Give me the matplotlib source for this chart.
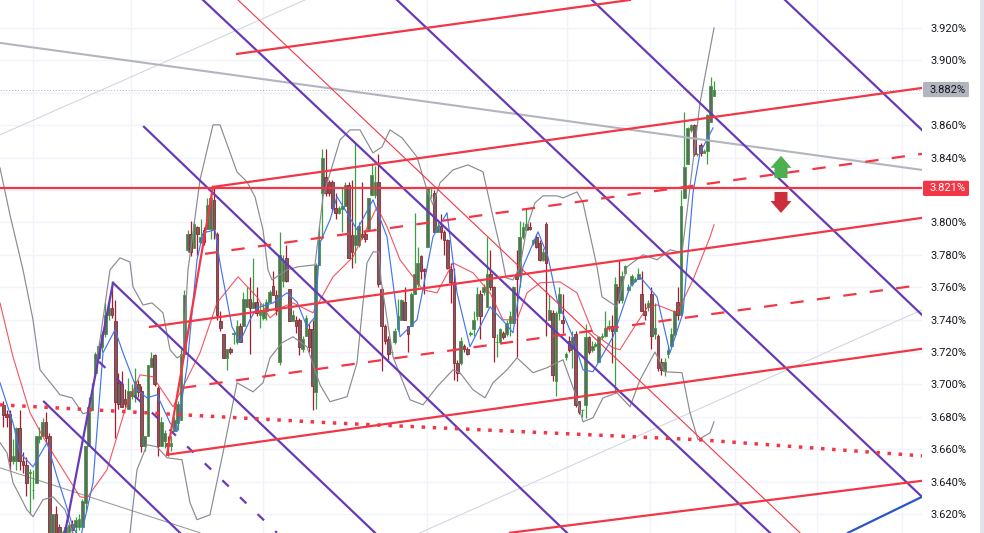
import matplotlib
matplotlib.use("Agg")
import matplotlib.pyplot as plt
from matplotlib.patches import FancyArrow, FancyBboxPatch, Rectangle
import numpy as np

# candles, one value per bar, bars 1..217
opens = [
    3.687, 3.682, 3.682, 3.653, 3.653, 3.673, 3.653, 3.650, 3.645, 3.635,
    3.639, 3.666, 3.668, 3.677, 3.668, 3.600, 3.620, 3.612, 3.604, 3.600,
    3.609, 3.614, 3.612, 3.612, 3.612, 3.627, 3.662, 3.684, 3.707, 3.716,
    3.723, 3.731, 3.743, 3.747, 3.739, 3.701, 3.700, 3.691, 3.685, 3.693,
    3.692, 3.700, 3.696, 3.662, 3.668, 3.711, 3.718, 3.698, 3.662, 3.665,
    3.664, 3.662, 3.671, 3.676, 3.678, 3.719, 3.783, 3.793, 3.784, 3.797,
    3.788, 3.795, 3.796, 3.796, 3.814, 3.793, 3.739, 3.731, 3.716, 3.722,
    3.731, 3.726, 3.736, 3.736, 3.748, 3.753, 3.747, 3.751, 3.743, 3.741,
    3.745, 3.751, 3.761, 3.755, 3.714, 3.764, 3.778, 3.759, 3.739, 3.740,
    3.740, 3.722, 3.730, 3.734, 3.734, 3.695, 3.774, 3.818, 3.828, 3.825,
    3.825, 3.809, 3.806, 3.808, 3.810, 3.823, 3.792, 3.786, 3.786, 3.793,
    3.793, 3.796, 3.817, 3.817, 3.825, 3.759, 3.736, 3.728, 3.720, 3.726,
    3.734, 3.740, 3.751, 3.736, 3.736, 3.756, 3.762, 3.779, 3.771, 3.785,
    3.817, 3.818, 3.794, 3.798, 3.794, 3.789, 3.771, 3.763, 3.713, 3.713,
    3.724, 3.722, 3.731, 3.734, 3.742, 3.756, 3.757, 3.748, 3.768, 3.760,
    3.726, 3.726, 3.732, 3.731, 3.738, 3.738, 3.768, 3.767, 3.791, 3.795,
    3.797, 3.787, 3.791, 3.787, 3.777, 3.799, 3.740, 3.744, 3.702, 3.744,
    3.740, 3.717, 3.727, 3.723, 3.731, 3.690, 3.684, 3.687, 3.729, 3.721,
    3.724, 3.714, 3.729, 3.730, 3.735, 3.736, 3.733, 3.760, 3.752, 3.769,
    3.758, 3.762, 3.764, 3.765, 3.756, 3.745, 3.748, 3.756, 3.731, 3.730,
    3.714, 3.708, 3.719, 3.724, 3.731, 3.751, 3.743, 3.815, 3.836, 3.857,
    3.860, 3.842, 3.848, 3.843, 3.844, 3.862, 3.878,
]
closes = [
    3.681, 3.680, 3.653, 3.656, 3.673, 3.653, 3.650, 3.639, 3.646, 3.635,
    3.668, 3.668, 3.677, 3.667, 3.600, 3.620, 3.600, 3.603, 3.609, 3.612,
    3.613, 3.610, 3.616, 3.617, 3.628, 3.662, 3.686, 3.696, 3.719, 3.724,
    3.731, 3.743, 3.747, 3.743, 3.689, 3.688, 3.686, 3.688, 3.696, 3.696,
    3.702, 3.695, 3.662, 3.668, 3.712, 3.716, 3.700, 3.662, 3.677, 3.670,
    3.662, 3.664, 3.678, 3.688, 3.719, 3.755, 3.793, 3.782, 3.799, 3.793,
    3.791, 3.788, 3.811, 3.815, 3.796, 3.743, 3.735, 3.716, 3.722, 3.720,
    3.732, 3.736, 3.726, 3.753, 3.753, 3.747, 3.751, 3.744, 3.745, 3.745,
    3.751, 3.757, 3.755, 3.746, 3.780, 3.776, 3.764, 3.739, 3.743, 3.736,
    3.723, 3.728, 3.741, 3.723, 3.699, 3.774, 3.789, 3.840, 3.818, 3.818,
    3.809, 3.806, 3.809, 3.810, 3.823, 3.778, 3.782, 3.792, 3.798, 3.791,
    3.790, 3.815, 3.829, 3.825, 3.762, 3.736, 3.727, 3.719, 3.720, 3.733,
    3.742, 3.752, 3.740, 3.731, 3.756, 3.768, 3.775, 3.770, 3.770, 3.821,
    3.817, 3.794, 3.798, 3.794, 3.789, 3.772, 3.763, 3.713, 3.707, 3.727,
    3.722, 3.719, 3.732, 3.740, 3.756, 3.742, 3.760, 3.768, 3.760, 3.729,
    3.726, 3.734, 3.729, 3.738, 3.742, 3.760, 3.765, 3.791, 3.797, 3.799,
    3.796, 3.789, 3.785, 3.777, 3.782, 3.775, 3.746, 3.706, 3.744, 3.756,
    3.738, 3.719, 3.721, 3.729, 3.687, 3.683, 3.684, 3.729, 3.720, 3.724,
    3.725, 3.729, 3.730, 3.735, 3.736, 3.733, 3.762, 3.752, 3.767, 3.773,
    3.760, 3.767, 3.765, 3.768, 3.745, 3.743, 3.750, 3.730, 3.735, 3.710,
    3.709, 3.714, 3.721, 3.731, 3.745, 3.743, 3.810, 3.834, 3.858, 3.860,
    3.842, 3.842, 3.843, 3.844, 3.866, 3.884, 3.882,
]
highs = [
    3.690, 3.684, 3.684, 3.666, 3.674, 3.684, 3.658, 3.655, 3.648, 3.647,
    3.668, 3.674, 3.679, 3.683, 3.670, 3.620, 3.625, 3.614, 3.610, 3.613,
    3.615, 3.616, 3.618, 3.620, 3.629, 3.662, 3.692, 3.701, 3.720, 3.727,
    3.733, 3.750, 3.752, 3.761, 3.752, 3.707, 3.708, 3.697, 3.704, 3.700,
    3.710, 3.703, 3.699, 3.668, 3.712, 3.720, 3.719, 3.699, 3.680, 3.672,
    3.668, 3.668, 3.680, 3.690, 3.722, 3.758, 3.795, 3.801, 3.800, 3.798,
    3.802, 3.797, 3.815, 3.818, 3.821, 3.794, 3.745, 3.731, 3.722, 3.723,
    3.733, 3.740, 3.738, 3.757, 3.760, 3.766, 3.778, 3.760, 3.750, 3.750,
    3.753, 3.758, 3.770, 3.758, 3.794, 3.780, 3.786, 3.759, 3.746, 3.742,
    3.741, 3.730, 3.743, 3.737, 3.740, 3.775, 3.797, 3.845, 3.845, 3.826,
    3.826, 3.818, 3.810, 3.822, 3.825, 3.825, 3.826, 3.849, 3.800, 3.825,
    3.795, 3.815, 3.836, 3.835, 3.842, 3.760, 3.737, 3.730, 3.720, 3.735,
    3.753, 3.753, 3.760, 3.736, 3.757, 3.806, 3.785, 3.780, 3.772, 3.822,
    3.822, 3.820, 3.800, 3.805, 3.795, 3.790, 3.775, 3.772, 3.715, 3.729,
    3.725, 3.723, 3.733, 3.745, 3.760, 3.758, 3.762, 3.791, 3.783, 3.761,
    3.731, 3.735, 3.733, 3.740, 3.745, 3.761, 3.783, 3.801, 3.800, 3.808,
    3.800, 3.790, 3.793, 3.789, 3.784, 3.800, 3.755, 3.746, 3.745, 3.760,
    3.756, 3.720, 3.730, 3.733, 3.733, 3.690, 3.685, 3.737, 3.730, 3.727,
    3.726, 3.730, 3.732, 3.745, 3.740, 3.743, 3.766, 3.777, 3.770, 3.774,
    3.762, 3.768, 3.766, 3.772, 3.770, 3.750, 3.752, 3.760, 3.750, 3.731,
    3.716, 3.716, 3.724, 3.735, 3.746, 3.760, 3.820, 3.868, 3.859, 3.861,
    3.861, 3.843, 3.849, 3.845, 3.867, 3.890, 3.887,
]
lows = [
    3.674, 3.674, 3.647, 3.651, 3.647, 3.647, 3.645, 3.631, 3.620, 3.629,
    3.639, 3.664, 3.668, 3.664, 3.595, 3.595, 3.598, 3.600, 3.600, 3.598,
    3.600, 3.605, 3.605, 3.610, 3.612, 3.621, 3.662, 3.684, 3.705, 3.716,
    3.720, 3.729, 3.740, 3.741, 3.667, 3.685, 3.686, 3.686, 3.685, 3.691,
    3.689, 3.692, 3.658, 3.659, 3.668, 3.711, 3.699, 3.656, 3.662, 3.661,
    3.656, 3.659, 3.671, 3.672, 3.678, 3.719, 3.782, 3.779, 3.784, 3.780,
    3.787, 3.786, 3.796, 3.790, 3.790, 3.740, 3.733, 3.716, 3.709, 3.719,
    3.725, 3.725, 3.726, 3.736, 3.748, 3.719, 3.747, 3.742, 3.735, 3.740,
    3.740, 3.751, 3.755, 3.743, 3.712, 3.760, 3.763, 3.739, 3.739, 3.732,
    3.718, 3.720, 3.730, 3.720, 3.684, 3.685, 3.774, 3.790, 3.816, 3.816,
    3.807, 3.802, 3.805, 3.794, 3.810, 3.778, 3.772, 3.775, 3.785, 3.790,
    3.788, 3.795, 3.817, 3.815, 3.760, 3.708, 3.725, 3.715, 3.719, 3.725,
    3.733, 3.740, 3.740, 3.720, 3.736, 3.756, 3.760, 3.765, 3.756, 3.785,
    3.815, 3.794, 3.794, 3.790, 3.780, 3.771, 3.750, 3.703, 3.702, 3.712,
    3.720, 3.718, 3.730, 3.730, 3.740, 3.728, 3.755, 3.748, 3.758, 3.714,
    3.717, 3.726, 3.728, 3.730, 3.730, 3.738, 3.717, 3.760, 3.790, 3.795,
    3.795, 3.786, 3.784, 3.776, 3.776, 3.730, 3.740, 3.702, 3.693, 3.740,
    3.732, 3.715, 3.720, 3.710, 3.686, 3.682, 3.680, 3.679, 3.719, 3.720,
    3.723, 3.714, 3.728, 3.729, 3.733, 3.713, 3.695, 3.750, 3.750, 3.768,
    3.757, 3.761, 3.763, 3.765, 3.745, 3.740, 3.745, 3.722, 3.728, 3.708,
    3.706, 3.705, 3.716, 3.723, 3.730, 3.740, 3.743, 3.815, 3.836, 3.856,
    3.841, 3.841, 3.841, 3.843, 3.836, 3.862, 3.878,
]

# time units per bar on the x axis
bar_step = 3.29

# bollinger bands and moving averages, (time, yield)
upper_t = [0, 10, 23, 33, 40, 52, 60, 72, 83, 90, 100, 110, 120, 130, 133, 143, 152, 163, 170, 177, 183, 188, 200, 213,
           220, 237, 247, 255, 263, 268, 272, 287, 298, 315, 323, 340, 350, 360, 373, 382, 390, 402, 417, 427, 433, 440,
           453, 468, 483, 493, 500, 506, 513, 520, 527, 535, 543, 557, 563, 577, 583, 597, 602, 617, 627, 643, 657, 670,
           682, 690, 700, 708, 714]
upper_v = [3.8336, 3.8046, 3.7707, 3.7399, 3.709, 3.6998, 3.6936, 3.6917, 3.6819, 3.6831, 3.7275, 3.7707, 3.7781, 3.7756,
           3.7602, 3.749, 3.7503, 3.7442, 3.7214, 3.7164, 3.7183, 3.7707, 3.8262, 3.8602, 3.8602, 3.8312, 3.825, 3.8158,
           3.7954, 3.7707, 3.7645, 3.7707, 3.7726, 3.7738, 3.8158, 3.8509, 3.8571, 3.8571, 3.8429, 3.8466, 3.8571, 3.8522,
           3.8404, 3.82, 3.8108, 3.8244, 3.8324, 3.8355, 3.8312, 3.8034, 3.7849, 3.7658, 3.7645, 3.7726, 3.7973, 3.8121,
           3.8164, 3.8164, 3.8151, 3.8188, 3.8121, 3.7726, 3.754, 3.7479, 3.7726, 3.78, 3.7769, 3.7831, 3.7812, 3.8219,
           3.8737, 3.9003, 3.92]
lower_t = [0, 7, 13, 27, 33, 43, 53, 65, 75, 118, 130, 137, 147, 157, 167, 182, 190, 197, 210, 223, 237, 253, 263, 270,
           282, 293, 307, 320, 330, 347, 357, 367, 373, 379, 381, 393, 410, 423, 437, 453, 460, 473, 485, 493, 507, 517,
           533, 547, 563, 575, 583, 593, 603, 617, 630, 640, 655, 665, 682, 690, 698, 710, 714]
lower_v = [3.664, 3.6578, 3.6393, 3.6226, 3.6183, 3.6288, 3.6306, 3.6226, 3.604, 3.6011, 3.6084, 3.6473, 3.6627, 3.6615,
           3.6547, 3.6535, 3.627, 3.6165, 3.6195, 3.6578, 3.701, 3.6954, 3.701, 3.7164, 3.7257, 3.7294, 3.7232, 3.6998,
           3.6893, 3.6924, 3.7133, 3.775, 3.7818, 3.7818, 3.7645, 3.717, 3.6905, 3.6874, 3.6985, 3.709, 3.7072, 3.6967,
           3.6917, 3.701, 3.709, 3.7164, 3.7072, 3.7103, 3.7152, 3.6948, 3.6769, 3.6794, 3.6917, 3.6948, 3.6862, 3.7028,
           3.72, 3.7078, 3.7072, 3.6825, 3.6658, 3.6701, 3.6769]
slow_t = [0, 13, 30, 43, 55, 80, 87, 107, 125, 140, 153, 173, 183, 200, 217, 238, 257, 270, 283, 293, 313, 333, 353, 377,
          387, 400, 423, 437, 453, 473, 490, 503, 517, 527, 540, 560, 577, 593, 613, 620, 637, 647, 657, 677, 693, 710, 714]
slow_v = [3.7503, 3.717, 3.6825, 3.6677, 3.6553, 3.6306, 3.63, 3.6473, 3.6843, 3.7059, 3.7047, 3.6862, 3.6985, 3.7195,
          3.7503, 3.7664, 3.754, 3.7411, 3.7479, 3.7503, 3.7442, 3.7664, 3.7787, 3.8096, 3.7973, 3.7769, 3.7584, 3.7565,
          3.775, 3.7689, 3.7565, 3.7399, 3.7399, 3.7565, 3.7627, 3.7633, 3.7565, 3.7318, 3.7226, 3.7214, 3.738, 3.7473,
          3.7491, 3.7442, 3.7645, 3.791, 3.7985]
fast_t = [0, 13, 20, 33, 47, 57, 73, 80, 87, 93, 103, 115, 123, 137, 147, 157, 170, 177, 187, 197, 203, 215, 220, 232,
          240, 250, 257, 273, 287, 297, 307, 315, 320, 330, 337, 347, 357, 373, 387, 400, 417, 433, 447, 457, 470, 490,
          505, 513, 523, 538, 548, 557, 572, 583, 593, 613, 630, 640, 657, 670, 683, 693, 700, 713]
fast_v = [3.701, 3.6763, 3.6578, 3.6491, 3.664, 3.643, 3.6121, 3.604, 3.6226, 3.6393, 3.7195, 3.7337, 3.7195, 3.6967,
          3.6917, 3.6936, 3.6763, 3.6708, 3.7109, 3.7769, 3.7935, 3.7954, 3.775, 3.7355, 3.7263, 3.7399, 3.7473, 3.7503,
          3.7565, 3.7509, 3.7355, 3.7417, 3.7874, 3.8016, 3.8158, 3.8059, 3.7954, 3.8139, 3.7911, 3.7294, 3.7399, 3.7911,
          3.8059, 3.7565, 3.7232, 3.7479, 3.738, 3.7318, 3.7726, 3.7942, 3.7787, 3.7522, 3.7306, 3.709, 3.7078, 3.7294,
          3.7602, 3.7664, 3.754, 3.7195, 3.7442, 3.8182, 3.8429, 3.8583]

# drawn trend lines, start and end
red_t0 = [237, 213, 150, 167, 510, 167]
red_v0 = [3.904, 3.8219, 3.7355, 3.6566, 3.6084, 3.6566]
red_t1 = [630, 922, 922, 922, 922, 213]
red_v1 = [3.9373, 3.883, 3.8028, 3.722, 3.6405, 3.8219]
dash_t0 = [205, 183]
dash_v0 = [3.7806, 3.6979]
dash_t1 = [922, 922]
dash_v1 = [3.8423, 3.7615]
purple_t0 = [203, 397, 592, 785, 144, 113, 44, 65]
purple_v0 = [3.9373, 3.9373, 3.9373, 3.9373, 3.859, 3.7627, 3.6893, 3.6084]
purple_t1 = [770, 922, 922, 922, 567, 375, 180, 113]
purple_v1 = [3.6084, 3.6306, 3.7429, 3.857, 3.6084, 3.6084, 3.6084, 3.7627]
purple_dash_t = [99, 277]
purple_dash_v = [3.714, 3.6084]
thin_red_t = [238, 800]
thin_red_v = [3.9373, 3.6084]
gray_t = [0, 922]
gray_v = [3.9108, 3.8324]
pale_t0 = [0, 420]
pale_v0 = [3.854, 3.6084]
pale_t1 = [305, 922]
pale_v1 = [3.9373, 3.746]
thin_gray_t = [0, 200]
thin_gray_v = [3.6485, 3.6084]
blue_t = [848, 922]
blue_v = [3.6084, 3.6306]
dotted_t = [0, 330, 480, 700, 922]
dotted_v = [3.6874, 3.6763, 3.672, 3.6658, 3.6559]

last_price = 3.882
level_price = 3.821
ticks = [3.62, 3.64, 3.66, 3.68, 3.70, 3.72, 3.74, 3.76, 3.78, 3.80, 3.82, 3.84, 3.86, 3.88, 3.90, 3.92]
hidden_ticks = [3.82, 3.88]
vgrid_t = [33, 131, 263, 427, 567, 650, 735, 817, 902]

RED = "#f23645"
PURPLE = "#673ab7"

plt.rcParams["font.family"] = ["Roboto", "DejaVu Sans"]
fig = plt.figure(figsize=(9.84, 5.33), dpi=100)
ax = fig.add_axes([0, 0, 922 / 984, 1])
ax.set_xlim(0, 922)
ax.set_ylim(3.60827, 3.93728)
for s in ax.spines.values():
    s.set_visible(False)

ax.set_xticks(vgrid_t)
ax.set_yticks(ticks)
ax.set_xticklabels([])
ax.grid(True, color="#f0f3fa", lw=1)
ax.set_axisbelow(True)
ax.yaxis.tick_right()
ax.tick_params(length=0, labelsize=8, labelcolor="#131722", pad=6)
ax.set_yticklabels(["" if t in hidden_ticks else "%.3f%%" % t for t in ticks])

# pale and gray lines sit under the candles
for a, b, c, d in zip(pale_t0, pale_t1, pale_v0, pale_v1):
    ax.plot([a, b], [c, d], color="#d1d4dc", lw=0.75)
ax.plot(thin_gray_t, thin_gray_v, color="#999999", lw=0.75)
ax.axhline(last_price, color="#b2b5be", lw=0.7, ls=(0, (1, 2)))

x = (np.arange(len(opens)) + 1) * bar_step
o = np.array(opens)
c = np.array(closes)
up = c >= o
edge = np.where(up, "#3c9f40", "#a51e2d")
ax.vlines(x, lows, highs, colors=edge, lw=0.9, zorder=3)
ax.bar(x, np.abs(c - o), bottom=np.minimum(o, c), width=2.7, color="#666666", edgecolor=edge, lw=0.6, zorder=3)

ax.plot(upper_t, upper_v, color="#8a8a92", lw=0.85, zorder=4)
ax.plot(lower_t, lower_v, color="#8a8a92", lw=0.85, zorder=4)
ax.plot(slow_t, slow_v, color="#f23645", lw=0.8, alpha=0.85, zorder=4)
ax.plot(fast_t, fast_v, color="#3f76f0", lw=0.85, zorder=4)

ax.plot(gray_t, gray_v, color="#b2b5be", lw=1.5, zorder=5)
ax.plot(thin_red_t, thin_red_v, color=RED, lw=0.8, zorder=5)
for a, b, c1, d in zip(purple_t0, purple_t1, purple_v0, purple_v1):
    ax.plot([a, b], [c1, d], color=PURPLE, lw=1.6, zorder=5)
ax.plot(purple_dash_t, purple_dash_v, color=PURPLE, lw=1.6, ls=(0, (4, 7)), zorder=5)
for a, b, c1, d in zip(red_t0, red_t1, red_v0, red_v1):
    ax.plot([a, b], [c1, d], color=RED, lw=1.6, zorder=6)
for a, b, c1, d in zip(dash_t0, dash_t1, dash_v0, dash_v1):
    ax.plot([a, b], [c1, d], color=RED, lw=1.6, ls=(0, (6, 6)), zorder=6)
ax.plot(dotted_t, dotted_v, color=RED, lw=2.5, ls=(0, (1, 2.2)), zorder=6)
ax.axhline(level_price, color=RED, lw=1.6, zorder=6)
ax.plot(blue_t, blue_v, color="#2a55c8", lw=1.6, zorder=6)

ax.add_patch(FancyArrow(781, 3.8274, 0, 0.0137, width=13, head_width=21, head_length=0.0074,
                        length_includes_head=True, color="#4caf50", lw=0, zorder=7))
ax.add_patch(FancyArrow(781, 3.8188, 0, -0.013, width=13, head_width=21, head_length=0.0074,
                        length_includes_head=True, color="#cc2f3c", lw=0, zorder=7))

# price badges on the scale
for val, bg, fg in [(last_price, "#b2b5be", "#131722"), (level_price, RED, "white")]:
    ax.add_patch(FancyBboxPatch((923, val - 0.0047), 46, 0.0094, boxstyle="round,pad=0,rounding_size=1.5",
                                mutation_aspect=0.0006, fc=bg, ec="none", clip_on=False, zorder=8))
    ax.text(929, val, "%.3f%%" % val, color=fg, fontsize=8, va="center", ha="left", clip_on=False, zorder=9)

fig.patches.append(Rectangle((980 / 984, 0), 4 / 984, 1, transform=fig.transFigure, fc="#e0e3eb", ec="none"))

fig.savefig("out.png", dpi=100)
